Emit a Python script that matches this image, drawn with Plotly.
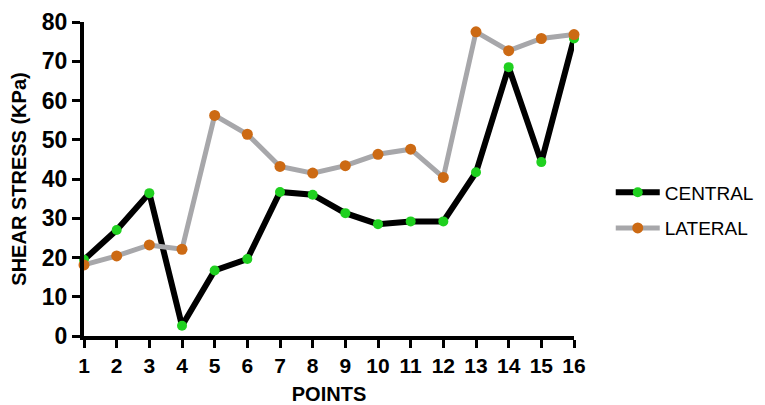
import plotly.graph_objects as go

points = list(range(1, 17))
central = [19.4, 27.0, 36.4, 2.6, 16.7, 19.6, 36.7, 36.0, 31.3, 28.5, 29.2, 29.2, 41.7, 68.5, 44.3, 75.8]
lateral = [18.1, 20.4, 23.2, 22.1, 56.2, 51.4, 43.2, 41.5, 43.4, 46.3, 47.6, 40.4, 77.5, 72.7, 75.8, 76.8]

FONT = "Liberation Sans, Arial, sans-serif"

fig = go.Figure()
fig.add_trace(go.Scatter(
    x=points, y=central, name="CENTRAL", mode="lines+markers",
    legendgroup="a",
    line=dict(color="#000000", width=6),
    marker=dict(color="#1fd01f", size=10),
    cliponaxis=False,
))
fig.add_trace(go.Scatter(
    x=points, y=lateral, name="LATERAL", mode="lines+markers",
    legendgroup="b",
    line=dict(color="#a7a7aa", width=5),
    marker=dict(color="#cc6a14", size=11),
    cliponaxis=False,
))

# page body has an 8px margin, so the figure is sized/offset to compensate
fig.update_layout(
    width=757, height=397,
    margin=dict(l=76, r=191, t=14, b=69, autoexpand=False),
    paper_bgcolor="white", plot_bgcolor="white",
    font=dict(family=FONT, color="black"),
    legend=dict(
        x=1.075, y=0.40, xanchor="left", yanchor="middle",
        traceorder="grouped",
        font=dict(size=19, family=FONT),
        itemwidth=44,
        tracegroupgap=8,
        bgcolor="rgba(0,0,0,0)",
    ),
    xaxis=dict(
        range=[1, 16], tickmode="array", tickvals=points,
        ticktext=[str(p) for p in points],
        showgrid=False, zeroline=False, automargin=False,
        showline=True, linecolor="black", linewidth=4,
        ticks="outside", ticklen=8, tickwidth=3, tickcolor="black",
        tickfont=dict(size=21, weight="bold"),
        title=dict(text="POINTS", font=dict(size=20, weight="bold"), standoff=16),
    ),
    yaxis=dict(
        range=[0, 80], tickmode="array", tickvals=list(range(0, 81, 10)),
        showgrid=False, zeroline=False, automargin=False,
        showline=True, linecolor="black", linewidth=4,
        ticks="outside", ticklen=8, tickwidth=3, tickcolor="black",
        tickfont=dict(size=23, weight="bold"),
        title=dict(text="SHEAR STRESS (KPa)", font=dict(size=20, weight="bold"), standoff=18),
    ),
)

fig.write_html("out.html")
